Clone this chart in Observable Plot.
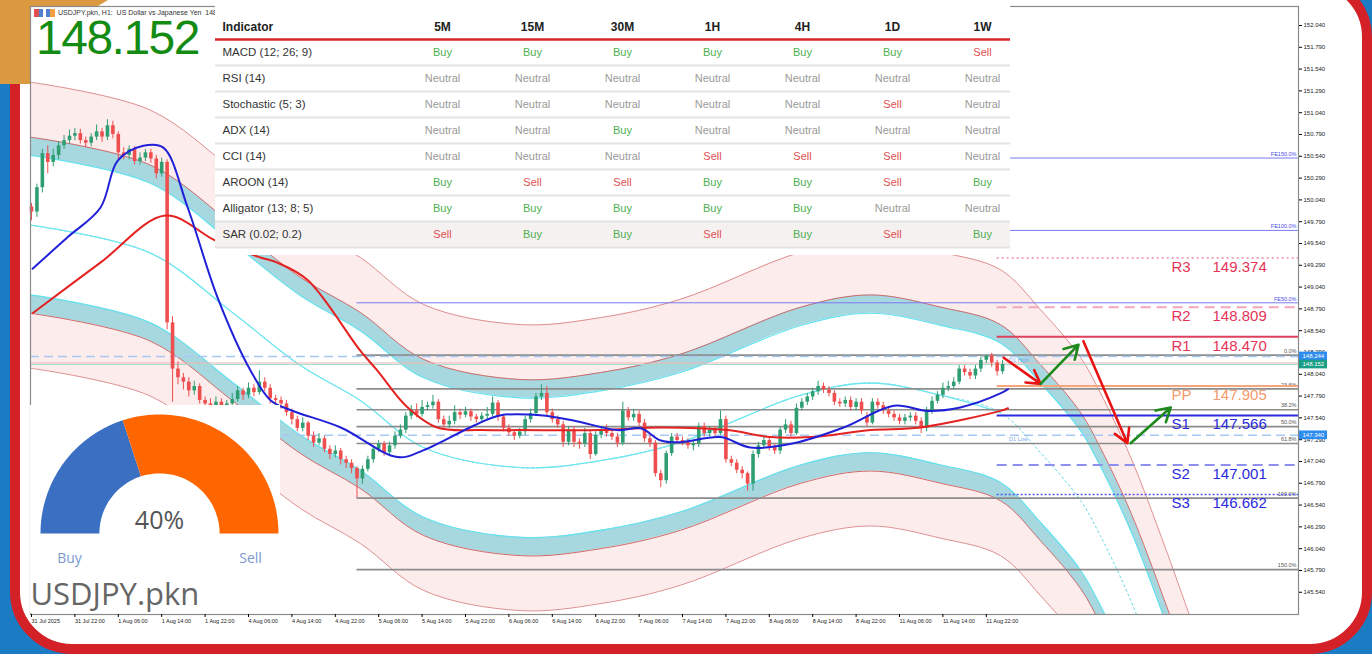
<!DOCTYPE html>
<html><head><meta charset="utf-8">
<script src="https://cdn.jsdelivr.net/npm/d3@7"></script>
<script src="https://cdn.jsdelivr.net/npm/@observablehq/plot@0.6"></script>
<style>
body{margin:0;}
#wrap{position:relative;width:1372px;height:654px;overflow:hidden;background:#1b7cc4;font-family:"Liberation Sans",Arial,sans-serif;}
#frame{position:absolute;left:10px;top:-25px;width:1362px;height:679px;box-sizing:border-box;border:10px solid #d42027;border-radius:62px;background:#fff;}
#orange{position:absolute;left:0;top:0;width:112px;height:84px;background:#dc9a40;clip-path:polygon(0 0,108px 0,98px 6px,30px 6px,30px 84px,0 84px);}
#chart,#table,#gauge{position:absolute;}
#chart{left:0;top:0;}
#table{left:215px;top:0;}
#gauge{left:30px;top:405px;}
#hdr{position:absolute;left:34px;top:8px;font-size:7px;color:#333;white-space:nowrap;line-height:9px;}
#hdr i{display:inline-block;width:9px;height:8px;margin-right:3px;vertical-align:middle;}
#bigprice{position:absolute;left:36px;top:14px;font-size:48px;line-height:48px;letter-spacing:-1.5px;color:#148c14;font-family:"Liberation Sans",Arial,sans-serif;}
</style></head>
<body>
<div id="wrap">
  <div id="frame"></div>
  <div id="orange"></div>
  <div id="chart"></div>
  <div id="hdr"><i style="background:linear-gradient(90deg,#e05050 50%,#5080d0 50%)"></i><i style="background:linear-gradient(90deg,#5080d0 50%,#f0a040 50%)"></i>USDJPY.pkn, H1:&nbsp; US Dollar vs Japanese Yen&nbsp; 148.15</div>
  <div id="bigprice">148.152</div>
  <div id="table"></div>
  <div id="gauge"></div>
</div>
<script>
// ---------------- DATA ----------------
const opens = [149.96,149.90,150.18,150.57,150.47,150.55,150.66,150.72,150.77,150.80,
150.72,150.69,150.76,150.82,150.76,150.89,150.79,150.58,150.55,150.62,
150.48,150.52,150.58,150.51,150.34,150.47,148.63,148.10,148.00,147.95,
147.85,147.90,147.74,147.70,147.68,147.72,147.66,147.70,147.75,147.85,
147.80,147.88,147.83,147.95,147.88,147.76,147.74,147.70,147.60,147.52,
147.42,147.48,147.33,147.25,147.30,147.18,147.12,147.16,147.06,147.02,
146.96,146.84,146.95,147.06,147.18,147.24,147.14,147.22,147.33,147.40,
147.56,147.62,147.58,147.66,147.68,147.72,147.52,147.46,147.50,147.60,
147.57,147.61,147.55,147.52,147.56,147.58,147.71,147.55,147.42,147.37,
147.33,147.38,147.52,147.59,147.78,147.82,147.60,147.52,147.46,147.26,
147.40,147.26,147.24,147.36,147.12,147.34,147.40,147.36,147.32,147.25,
147.62,147.54,147.58,147.48,147.30,147.25,146.90,146.82,147.13,147.32,
147.28,147.26,147.22,147.24,147.44,147.36,147.40,147.36,147.52,147.06,
147.02,146.94,146.90,146.78,147.12,147.22,147.28,147.20,147.16,147.40,
147.46,147.36,147.65,147.72,147.78,147.84,147.90,147.86,147.82,147.72,
147.70,147.74,147.66,147.72,147.56,147.48,147.72,147.68,147.62,147.58,
147.54,147.50,147.54,147.56,147.50,147.42,147.62,147.73,147.80,147.88,
147.90,147.95,148.10,148.06,148.02,148.10,148.20,148.25,148.17,148.07];
const closes = [149.90,150.18,150.57,150.47,150.55,150.66,150.72,150.77,150.80,150.72,
150.69,150.76,150.82,150.76,150.89,150.79,150.58,150.55,150.62,150.48,
150.52,150.58,150.51,150.34,150.47,148.63,148.10,148.00,147.95,147.85,
147.90,147.74,147.70,147.68,147.72,147.66,147.70,147.75,147.85,147.80,
147.88,147.83,147.95,147.88,147.76,147.74,147.70,147.60,147.52,147.42,
147.48,147.33,147.25,147.30,147.18,147.12,147.16,147.06,147.02,146.96,
146.84,146.95,147.06,147.18,147.24,147.14,147.22,147.33,147.40,147.56,
147.62,147.58,147.66,147.68,147.72,147.52,147.46,147.50,147.60,147.57,
147.61,147.55,147.52,147.56,147.58,147.71,147.55,147.42,147.37,147.33,
147.38,147.52,147.59,147.78,147.82,147.60,147.52,147.46,147.26,147.40,
147.26,147.24,147.36,147.12,147.34,147.40,147.36,147.32,147.25,147.62,
147.54,147.58,147.48,147.30,147.25,146.90,146.82,147.13,147.32,147.28,
147.26,147.22,147.24,147.44,147.36,147.40,147.36,147.52,147.06,147.02,
146.94,146.90,146.78,147.12,147.22,147.28,147.20,147.16,147.40,147.46,
147.36,147.65,147.72,147.78,147.84,147.90,147.86,147.82,147.72,147.70,
147.74,147.66,147.72,147.62,147.48,147.72,147.68,147.62,147.58,147.54,
147.50,147.54,147.56,147.50,147.42,147.62,147.73,147.80,147.88,147.90,
147.95,148.10,148.06,148.02,148.10,148.20,148.25,148.17,148.07,148.152];
const highs = [150.00,150.22,150.62,150.66,150.62,150.71,150.78,150.84,150.86,150.85,
150.76,150.80,150.90,150.86,150.96,150.94,150.82,150.64,150.66,150.65,
150.58,150.62,150.62,150.55,150.52,150.50,148.70,148.18,148.05,148.00,
147.96,147.93,147.78,147.76,147.78,147.76,147.74,147.82,147.90,147.88,
147.94,147.92,148.08,148.00,147.92,147.80,147.78,147.74,147.64,147.56,
147.54,147.50,147.38,147.36,147.33,147.22,147.22,147.19,147.10,147.06,
146.98,146.99,147.10,147.22,147.28,147.27,147.26,147.38,147.46,147.60,
147.68,147.70,147.74,147.72,147.80,147.75,147.56,147.56,147.68,147.64,
147.66,147.64,147.58,147.60,147.66,147.78,147.74,147.58,147.46,147.40,
147.42,147.56,147.64,147.82,147.92,147.90,147.64,147.56,147.50,147.44,
147.44,147.30,147.42,147.40,147.38,147.44,147.46,147.40,147.36,147.72,
147.66,147.64,147.62,147.52,147.34,147.28,146.94,147.16,147.36,147.36,
147.32,147.30,147.28,147.48,147.48,147.44,147.44,147.62,147.56,147.10,
147.06,146.98,146.92,147.16,147.26,147.32,147.32,147.24,147.44,147.52,
147.50,147.70,147.76,147.82,147.88,147.96,147.94,147.90,147.85,147.76,
147.78,147.78,147.76,147.76,147.60,147.76,147.76,147.72,147.66,147.62,
147.58,147.58,147.60,147.60,147.54,147.66,147.78,147.84,147.94,147.96,
148.00,148.14,148.14,148.10,148.14,148.24,148.26,148.28,148.20,148.20];
const lows = [149.80,149.84,150.12,150.34,150.42,150.50,150.62,150.68,150.72,150.68,
150.64,150.65,150.72,150.70,150.72,150.74,150.50,150.50,150.50,150.44,
150.44,150.48,150.46,150.28,150.30,148.55,147.72,147.92,147.86,147.78,
147.80,147.70,147.60,147.62,147.64,147.60,147.62,147.66,147.72,147.74,
147.76,147.78,147.80,147.84,147.70,147.68,147.64,147.56,147.46,147.38,
147.38,147.28,147.20,147.22,147.14,147.06,147.08,147.00,146.96,146.90,
146.62,146.78,146.92,147.02,147.14,147.10,147.10,147.18,147.30,147.36,
147.52,147.54,147.55,147.62,147.64,147.48,147.42,147.42,147.46,147.52,
147.54,147.50,147.48,147.48,147.52,147.55,147.50,147.38,147.33,147.28,
147.30,147.34,147.48,147.56,147.74,147.56,147.48,147.42,147.20,147.22,
147.20,147.18,147.20,147.06,147.10,147.30,147.32,147.28,147.20,147.22,
147.50,147.50,147.44,147.26,147.20,146.86,146.74,146.78,147.10,147.24,
147.22,147.18,147.16,147.20,147.32,147.32,147.32,147.34,147.02,146.98,
146.90,146.84,146.70,146.70,147.08,147.18,147.16,147.12,147.12,147.36,
147.32,147.34,147.62,147.68,147.74,147.80,147.82,147.78,147.68,147.66,
147.66,147.62,147.62,147.58,147.44,147.46,147.64,147.58,147.54,147.50,
147.46,147.46,147.50,147.46,147.36,147.38,147.58,147.70,147.76,147.84,
147.86,147.92,148.02,147.98,147.98,148.06,148.16,148.12,148.02,148.04];

const timeTickBars = [0,8,16,24,32,40,48,56,64,72,80,88,96,104,112,120,128,136,144,152,160,168,176];
const timeLabels = ["31 Jul 2025","31 Jul 22:00","1 Aug 06:00","1 Aug 14:00","1 Aug 22:00","4 Aug 06:00","4 Aug 14:00","4 Aug 22:00","5 Aug 06:00","5 Aug 14:00","5 Aug 22:00","6 Aug 06:00","6 Aug 14:00","6 Aug 22:00","7 Aug 06:00","7 Aug 14:00","7 Aug 22:00","8 Aug 06:00","8 Aug 14:00","8 Aug 22:00","11 Aug 06:00","11 Aug 14:00","11 Aug 22:00"];
const priceTicks = [152.04,151.79,151.54,151.29,151.04,150.79,150.54,150.29,150.04,149.79,149.54,149.29,149.04,148.79,148.54,148.29,148.04,147.79,147.54,147.29,147.04,146.79,146.54,146.29,146.04,145.79,145.54];

const maBlueBars = [0.2,6.6,12.7,15.9,20.6,24.3,28.8,34.3,40.4,44.1,47.7,57,67.5,72.3,81.5,86.5,93.8,99.9,108,112.3,116,119.6,127,132.5,140.5,149.7,159,165.2,171.2,178.6,180];
const maBluePrices = [149.25,149.61,149.95,150.49,150.66,150.64,149.95,148.92,148.08,147.74,147.63,147.43,147.09,147.17,147.45,147.57,147.57,147.51,147.40,147.42,147.28,147.26,147.32,147.20,147.25,147.43,147.68,147.62,147.66,147.82,147.87];
const maRedBars = [0.2,12.7,24.7,34,42.2,45.3,50.9,60.6,63.8,69,74.8,82.8,90,105,116,128.3,136.2,143.6,154.7,163.9,178.6,180];
const maRedPrices = [148.74,149.32,149.86,149.57,149.38,149.32,149.12,148.31,148.08,147.68,147.43,147.40,147.40,147.40,147.43,147.40,147.32,147.32,147.40,147.43,147.62,147.65];

const chanBars = [-0.2,21.9,37.2,49.6,60.6,72.3,90.1,104.9,119.6,141.8,154.7,167.6,178.6,186,193.4,197,202.6,209,215.5];
const chanPrices = [149.75,149.43,148.74,148.14,147.74,147.20,146.97,147.05,147.26,147.80,147.94,147.80,147.60,147.14,146.59,146.19,145.45,144.41,143.27];
const chanInner = 0.80, chanMid = 1.01, chanOuter = 1.64;

const pivotNames = ["R3","R2","R1","PP","S1","S2","S3"];
const pivotValues = [149.374,148.809,148.470,147.905,147.566,147.001,146.662];
const pivotStartBar = 178;

const fibLabels = ["0.0%","23.6%","38.2%","50.0%","61.8%","100.0%","150.0%"];
const fibValues = [148.26,147.873,147.634,147.44,147.246,146.62,145.80];
const feLabels = ["FE150.0%","FE100.0%","FE50.0%"];
const feValues = [150.52,149.69,148.86];
const fibStartBar = 60;

const d1Labels = ["D1 High","D1 Low"];
const d1Values = [148.244,147.340];
const bidValue = 148.152, askValue = 148.17;

const arrowFromBars = [179.2,186,193.9,202.6];
const arrowFromPrices = [148.23,147.93,148.42,147.25];
const arrowToBars = [186,193,202,210];
const arrowToPrices = [147.93,148.38,147.25,147.66];
const arrowDirs = ["down","up","down","up"];

const axisBoxValues = [148.244,148.152,147.340];
const axisBoxKinds = ["line","bid","line"];

const timeframes = ["5M","15M","30M","1H","4H","1D","1W"];
const indicators = ["MACD (12; 26; 9)","RSI (14)","Stochastic (5; 3)","ADX (14)","CCI (14)","AROON (14)","Alligator (13; 8; 5)","SAR (0.02; 0.2)"];
const signals = [
 ["Buy","Buy","Buy","Buy","Buy","Buy","Sell"],
 ["Neutral","Neutral","Neutral","Neutral","Neutral","Neutral","Neutral"],
 ["Neutral","Neutral","Neutral","Neutral","Neutral","Sell","Neutral"],
 ["Neutral","Neutral","Buy","Neutral","Neutral","Neutral","Neutral"],
 ["Neutral","Neutral","Neutral","Sell","Sell","Sell","Neutral"],
 ["Buy","Sell","Sell","Buy","Buy","Sell","Buy"],
 ["Buy","Buy","Buy","Buy","Buy","Neutral","Neutral"],
 ["Sell","Buy","Buy","Sell","Buy","Sell","Buy"]
];

const gaugeNames = ["Buy","Sell"];
const gaugeValues = [40,60];

// ---------------- STYLES / LAYOUT ----------------
const FONT = "Liberation Sans, Arial, sans-serif";
const UP = "#2f9e72", DOWN = "#ee4e4e";
const pivotStyle = {
  R3:{stroke:"#f08ca0",dash:"2,3",w:1.5,text:"#e63358"},
  R2:{stroke:"#f2a6b6",dash:"10,6",w:2,text:"#e63358"},
  R1:{stroke:"#e0405c",dash:null,w:2,text:"#e63358"},
  PP:{stroke:"#f7a67c",dash:null,w:2,text:"#f59a6c"},
  S1:{stroke:"#2b2be0",dash:null,w:2,text:"#2a2ade"},
  S2:{stroke:"#8f8ff0",dash:"10,6",w:2,text:"#2a2ade"},
  S3:{stroke:"#5555f0",dash:"2,2",w:1.5,text:"#2a2ade"}
};
const LAYOUT = {boxBarFrom:233.73, boxBarTo:238.9, labelNameDx:-127, labelValueDx:-86};
const X_DOMAIN = [-0.18433, 233.5484];
const Y_DOMAIN = [145.285, 152.258];

// ---------------- MAIN CHART ----------------
const candles = closes.map((c,i)=>({i, o:opens[i], h:highs[i], l:lows[i], c}));
const up = candles.filter(d=>d.c>=d.o), dn = candles.filter(d=>d.c<d.o);
const chan = chanBars.map((b,k)=>({b, p:chanPrices[k]}));
const lastBar = closes.length - 1;
const chanSolid = chan.filter(d=>d.b<=lastBar);
const maBlue = maBlueBars.map((b,k)=>({b,p:maBluePrices[k]}));
const maRed = maRedBars.map((b,k)=>({b,p:maRedPrices[k]}));
const pivots = pivotNames.map((n,k)=>({n, v:pivotValues[k]}));
const fibs = fibLabels.map((t,k)=>({t, v:fibValues[k]}));
const fes = feLabels.map((t,k)=>({t, v:feValues[k]}));
const arrows = arrowDirs.map((d,k)=>({d, b1:arrowFromBars[k], p1:arrowFromPrices[k], b2:arrowToBars[k], p2:arrowToPrices[k]}));
const boxes = axisBoxValues.map((v,k)=>({v, kind:axisBoxKinds[k]}));
const labelByBar = new Map(timeTickBars.map((b,k)=>[b,timeLabels[k]]));
const CV = "catmull-rom";

const bandMarks = [];
for (const s of [1,-1]) {
  bandMarks.push(Plot.areaY(chan,{x:"b", y1:d=>d.p+s*chanMid, y2:d=>d.p+s*chanOuter, fill:"#fcecec", curve:CV, clip:true}));
  bandMarks.push(Plot.areaY(chan,{x:"b", y1:d=>d.p+s*chanInner, y2:d=>d.p+s*chanMid, fill:"#a7d7df", curve:CV, clip:true}));
}
for (const s of [1,-1]) {
  bandMarks.push(Plot.line(chan,{x:"b", y:d=>d.p+s*chanInner, stroke:"#62e2ee", strokeWidth:1.2, curve:CV, clip:true}));
  bandMarks.push(Plot.line(chan,{x:"b", y:d=>d.p+s*chanMid, stroke:"#cf6a6a", strokeWidth:1, curve:CV, clip:true}));
  bandMarks.push(Plot.line(chan,{x:"b", y:d=>d.p+s*chanOuter, stroke:"#df8f8f", strokeWidth:1, curve:CV, clip:true}));
}
bandMarks.push(Plot.line(chan,{x:"b", y:"p", stroke:"#5fd8e6", strokeWidth:1, strokeDasharray:"2,3", curve:CV, clip:true}));
bandMarks.push(Plot.line(chanSolid,{x:"b", y:"p", stroke:"#6fe6f0", strokeWidth:1.3, curve:CV, clip:true}));

const pivotMarks = pivots.map(p=>{
  const st = pivotStyle[p.n];
  return Plot.ruleY([p],{y:"v", x1:()=>pivotStartBar, x2:()=>X_DOMAIN[1], stroke:st.stroke, strokeWidth:st.w, strokeDasharray:st.dash||undefined});
});
const pivotTextMarks = pivots.flatMap(p=>{
  const st = pivotStyle[p.n];
  return [
    Plot.text([p],{y:"v", text:"n", frameAnchor:"right", dx:LAYOUT.labelNameDx, dy:9, textAnchor:"start", fill:st.text, fontSize:15}),
    Plot.text([p],{y:"v", text:d=>d.v.toFixed(3), frameAnchor:"right", dx:LAYOUT.labelValueDx, dy:9, textAnchor:"start", fill:st.text, fontSize:15})
  ];
});

const main = Plot.plot({
  width:1372, height:654,
  marginLeft:30, marginRight:74, marginTop:6, marginBottom:40,
  x:{type:"linear", domain:X_DOMAIN, label:null},
  y:{type:"linear", domain:Y_DOMAIN, label:null},
  style:{background:"transparent", fontFamily:FONT, overflow:"visible"},
  marks:[
    ...bandMarks,
    Plot.ruleY(fibs,{y:"v", x1:()=>fibStartBar, x2:()=>X_DOMAIN[1], stroke:"#8c8c8c", strokeWidth:1.6}),
    Plot.ruleY(fes,{y:"v", x1:()=>fibStartBar, x2:()=>X_DOMAIN[1], stroke:"#7a7af2", strokeWidth:1}),
    Plot.text(fibs,{y:"v", text:"t", frameAnchor:"right", dx:-2, dy:-4, textAnchor:"end", fontSize:5.5, fill:"#555"}),
    Plot.text(fes,{y:"v", text:"t", frameAnchor:"right", dx:-2, dy:-4, textAnchor:"end", fontSize:5.5, fill:"#4a4ae8"}),
    Plot.ruleY(d1Values,{stroke:"#a8c8f4", strokeWidth:1.6, strokeDasharray:"9,5"}),
    Plot.ruleY([askValue],{stroke:"#f2b4b4", strokeWidth:1}),
    Plot.ruleY([bidValue],{stroke:"#a4dccd", strokeWidth:1.2}),
    Plot.text(d1Values,{x:()=>lastBar+1.2, y:d=>d, text:(d,k)=>d1Labels[k], dy:4, textAnchor:"start", fontSize:5.5, fill:"#7aa6ec"}),
    ...pivotMarks,
    Plot.ruleX(up,{x:"i", y1:"l", y2:"h", stroke:UP, strokeWidth:1}),
    Plot.ruleX(dn,{x:"i", y1:"l", y2:"h", stroke:DOWN, strokeWidth:1}),
    Plot.ruleX(up,{x:"i", y1:"o", y2:"c", stroke:UP, strokeWidth:3.6}),
    Plot.ruleX(dn,{x:"i", y1:"o", y2:"c", stroke:DOWN, strokeWidth:3.6}),
    Plot.line(maRed,{x:"b", y:"p", stroke:"#e52222", strokeWidth:2, curve:CV}),
    Plot.line(maBlue,{x:"b", y:"p", stroke:"#2020d8", strokeWidth:2, curve:CV}),
    Plot.arrow(arrows.filter(a=>a.d==="down"),{x1:"b1", y1:"p1", x2:"b2", y2:"p2", stroke:"#e81414", strokeWidth:2.6, headLength:9}),
    Plot.arrow(arrows.filter(a=>a.d==="up"),{x1:"b1", y1:"p1", x2:"b2", y2:"p2", stroke:"#1c8a1c", strokeWidth:2.6, headLength:9}),
    ...pivotTextMarks,
    Plot.frame({stroke:"#8a8a8a", strokeWidth:1.2}),
    Plot.axisX({anchor:"bottom", ticks:timeTickBars, tickFormat:d=>labelByBar.get(d), textAnchor:"start", tickSize:3, tickPadding:2, fontSize:5.5, fill:"#222", label:null}),
    Plot.axisY({anchor:"right", ticks:priceTicks, tickFormat:d=>d.toFixed(3), tickSize:3, tickPadding:2, fontSize:6, fill:"#222", label:null}),
    Plot.rect(boxes,{x1:()=>LAYOUT.boxBarFrom, x2:()=>LAYOUT.boxBarTo, y1:d=>d.v-0.05, y2:d=>d.v+0.05, fill:d=>d.kind==="bid"?"#1a9e86":"#2d8cf0"}),
    Plot.text(boxes,{y:"v", text:d=>d.v.toFixed(3), frameAnchor:"right", dx:4, textAnchor:"start", fontSize:6, fill:"#fff"})
  ],
  color:{type:"identity"}
});
document.getElementById("chart").append(main);

// ---------------- INDICATOR TABLE ----------------
const cells = signals.flatMap((row,r)=>row.map((s,c)=>({r,c,s})));
const sigColor = {Buy:"#4caf50", Sell:"#e0504f", Neutral:"#9a9a9a"};
const table = Plot.plot({
  width:795, height:255, margin:0,
  x:{type:"linear", domain:[-2.5222, 6.3111], axis:null, label:null},
  y:{type:"linear", domain:[-2, 7.8077], range:[0,255], axis:null, label:null},
  style:{background:"#fff", fontFamily:FONT},
  marks:[
    Plot.ruleY([indicators.length-1],{stroke:"#f6f1f1", strokeWidth:26}),
    Plot.ruleY(indicators,{y:(d,k)=>k+0.5, stroke:"#e3e3e3", strokeWidth:2}),
    Plot.ruleY([-0.5],{stroke:"#d7262c", strokeWidth:2.5}),
    Plot.text(["Indicator"],{frameAnchor:"top-left", dx:7, dy:22, textAnchor:"start", fontWeight:"bold", fontSize:12, fill:"#222"}),
    Plot.text(timeframes,{x:(d,k)=>k, frameAnchor:"top", dy:22, fontWeight:"bold", fontSize:12, fill:"#222"}),
    Plot.text(indicators,{y:(d,k)=>k, frameAnchor:"left", dx:7, textAnchor:"start", fontSize:11.5, fill:"#333"}),
    ...Object.keys(sigColor).map(s=>Plot.text(cells.filter(d=>d.s===s),{x:"c", y:"r", text:"s", fill:sigColor[s], fontSize:11}))
  ]
});
document.getElementById("table").append(table);

// ---------------- GAUGE ----------------
const gaugeInner = 0.505;
const total = d3.sum(gaugeValues);
let cum = 0;
const slices = gaugeNames.map((n,k)=>{
  const f0 = cum/total, f1 = (cum+gaugeValues[k])/total; cum += gaugeValues[k];
  const pts = [];
  const N = 60;
  for (let j=0;j<=N;j++){const a=Math.PI*(1-(f0+(f1-f0)*j/N)); pts.push({x:Math.cos(a), y:Math.sin(a)});}
  for (let j=N;j>=0;j--){const a=Math.PI*(1-(f0+(f1-f0)*j/N)); pts.push({x:gaugeInner*Math.cos(a), y:gaugeInner*Math.sin(a)});}
  return {n, pts};
});
const gaugeColor = {Buy:"#3b6fc2", Sell:"#ff6600"};
const gauge = Plot.plot({
  width:250, height:208, margin:0,
  x:{type:"linear", domain:[-1.084, 1.017], axis:null, label:null},
  y:{type:"linear", domain:[-0.6723, 1.0756], axis:null, label:null},
  style:{background:"#fff", fontFamily:"Open Sans, sans-serif"},
  marks:[
    ...slices.map(s=>Plot.line(s.pts,{x:"x", y:"y", fill:gaugeColor[s.n], stroke:"none"})),
    Plot.text([gaugeValues[0]],{x:()=>0, y:()=>0.105, text:d=>d+"%", fontSize:25, fill:"#555"}),
    Plot.text(gaugeNames,{x:(d,k)=>k===0?-0.756:0.765, y:()=>-0.21, text:d=>d, fontSize:14, fill:"#7b98cf"}),
    Plot.text(["USDJPY.pkn"],{frameAnchor:"left", y:()=>-0.52, textAnchor:"start", fontSize:31, fill:"#666"})
  ]
});
document.getElementById("gauge").append(gauge);
</script>
</body></html>
